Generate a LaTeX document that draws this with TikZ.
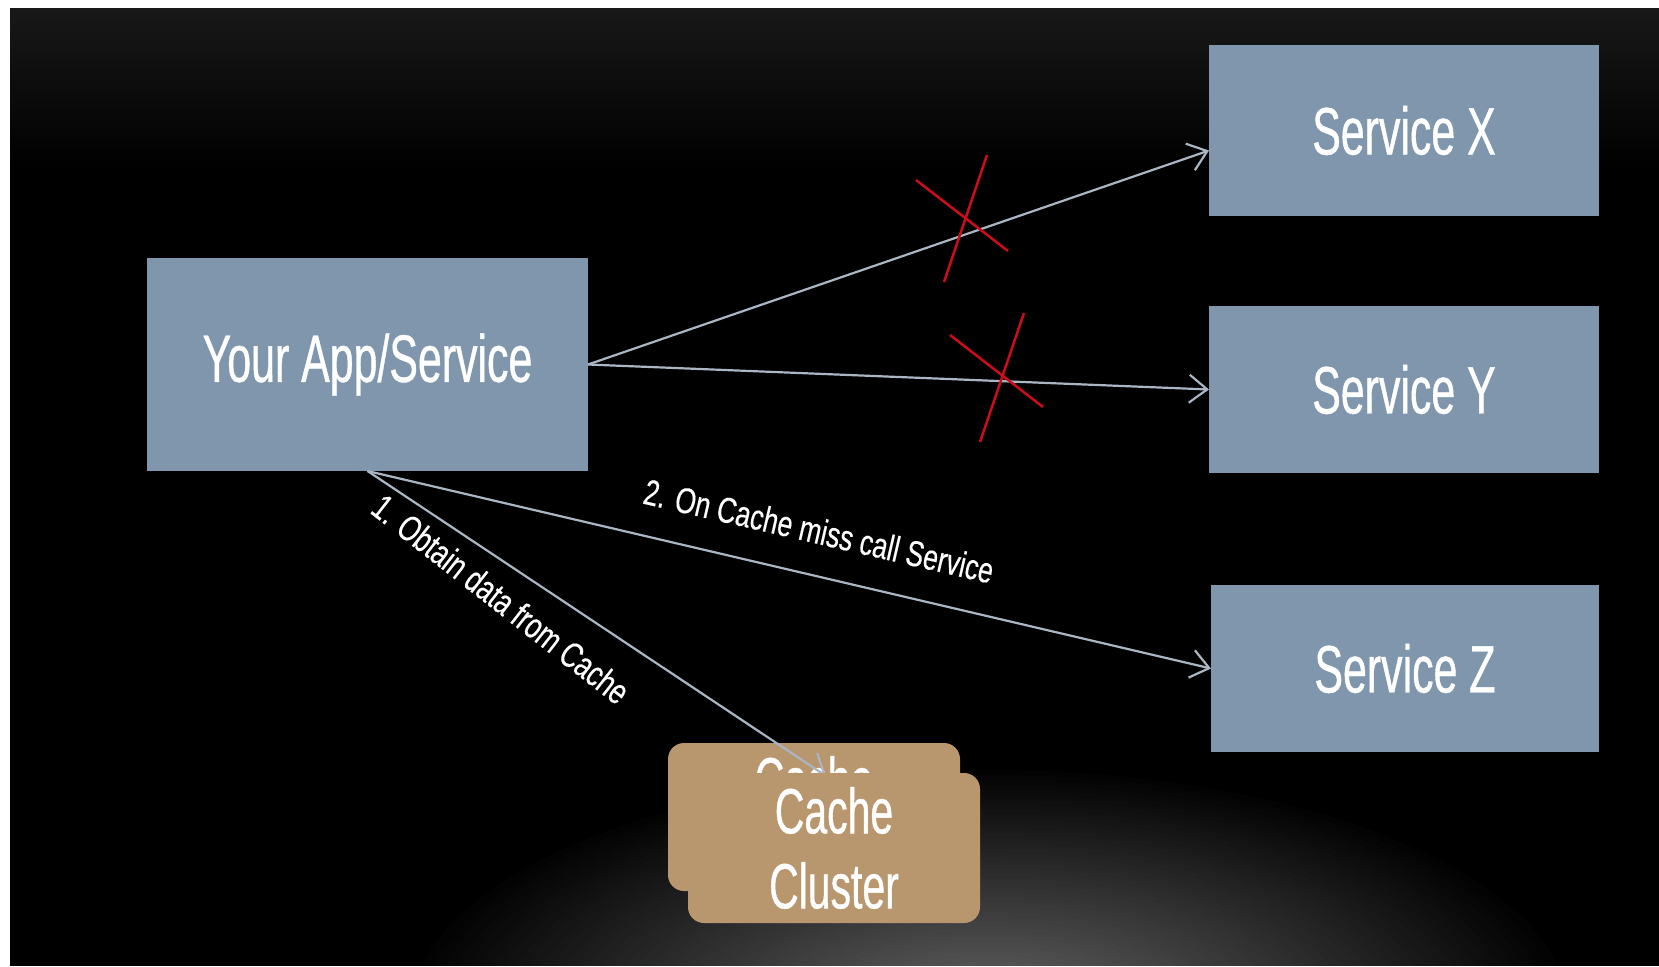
\documentclass[tikz,border=0pt]{standalone}
\usepackage{fontspec}
\newfontfamily\boxfont[FakeStretch=0.64,FakeBold=0.6]{Liberation Sans}
\newfontfamily\labfont[FakeStretch=0.74,FakeBold=0.3]{Liberation Sans}
\usetikzlibrary{arrows.meta,calc}
\pgfdeclarelayer{fg}
\pgfsetlayers{main,fg}
\definecolor{boxblue}{RGB}{127,150,172}
\definecolor{cachetan}{RGB}{184,150,110}
\definecolor{arrgray}{RGB}{170,182,196}
\definecolor{xred}{RGB}{205,12,28}
\definecolor{topgray}{RGB}{24,24,24}
\tikzset{
  svc/.style={fill=boxblue, text=white, inner sep=0pt, outer sep=0pt,
    font=\boxfont\fontsize{67}{75}\selectfont, align=center},
  cachebox/.style={fill=cachetan, rounded corners=16pt, text=white, inner sep=0pt, outer sep=0pt,
    minimum width=292pt, font=\boxfont\fontsize{64}{75}\selectfont, align=center},
  conn/.style={draw=arrgray, line width=2.2pt, -{Straight Barb[length=18pt,width=28pt]}},
  lab/.style={text=white, font=\labfont\fontsize{36}{40}\selectfont, inner sep=0pt},
  xmark/.style={draw=xred, line width=2.5pt},
  glowring/.style={fill=white, fill opacity=0.0105}
}
\begin{document}
\begin{tikzpicture}[x=1pt,y=-1pt]
\useasboundingbox (0,0) rectangle (1659,966);
\fill[white] (0,0) rectangle (1659,966);
\fill[black] (10,9) rectangle (1659,966);
\shade[top color=topgray, bottom color=black] (10,9) rectangle (1659,170);
\begin{scope}
\clip (10,9) rectangle (1659,966);
\foreach \r in {1.0,0.98,...,0.02}
  \fill[glowring] (990,1015) ellipse ({580*\r} and {245*\r});
\end{scope}

\node[svc, minimum width=441pt, minimum height=213pt] (app) at (367.5,364.5) {Your App/Service};
\node[svc, minimum width=390pt, minimum height=171pt] (sx) at (1404,130.5) {Service X};
\node[svc, minimum width=390pt, minimum height=167pt] (sy) at (1404,389.5) {Service Y};
\node[svc, minimum width=388pt, minimum height=167pt] (sz) at (1405,668.5) {Service Z};

\node[cachebox, minimum height=148pt] (cacheB) at (814,817) {Cache\\Cluster};
\begin{pgfonlayer}{fg}
\node[cachebox, minimum height=150pt] (cacheF) at (834,848) {Cache\\Cluster};
\end{pgfonlayer}

\draw[conn] (app.east) -- ([yshift=-20pt]sx.west);
\draw[conn] (app.east) -- (sy.west);
\draw[conn] (app.south) -- (sz.west);
\draw[conn] (app.south) -- ([xshift=-8pt,yshift=-3pt]cacheF.north);

\node[lab, rotate=-38] at (501,599) {1. Obtain data from Cache};
\node[lab, rotate=-13] at (819,531) {2. On Cache miss call Service};

\draw[xmark] (916,180) -- (1008,251);
\draw[xmark] (987,155) -- (944,282);
\draw[xmark] (950,335) -- (1043,407);
\draw[xmark] (1024,313) -- (980,442);
\end{tikzpicture}
\end{document}
